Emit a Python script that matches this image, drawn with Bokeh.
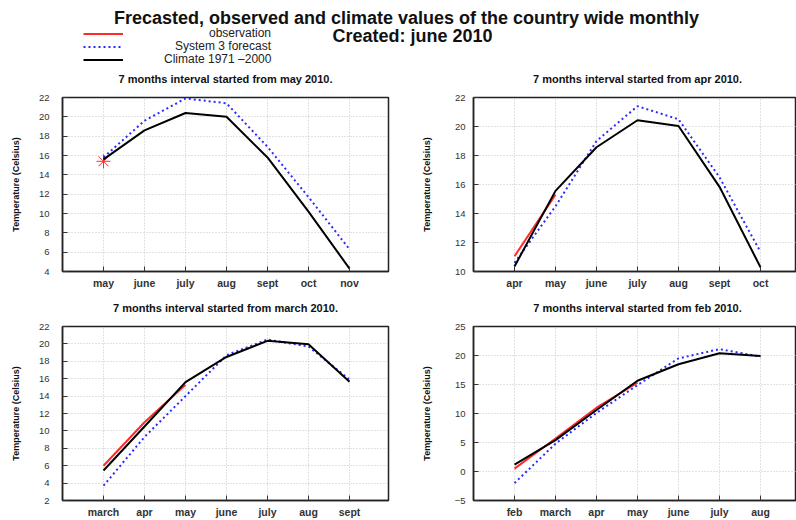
from bokeh.plotting import figure
from bokeh.layouts import column, row
from bokeh.models import FixedTicker, Label, Legend, LegendItem, Range1d
from bokeh.embed import file_html
from bokeh.resources import INLINE

FONT = "Liberation Sans"

# ---------------- data ----------------
month_pos = [1, 2, 3, 4, 5, 6, 7]

months_may = ["may", "june", "july", "aug", "sept", "oct", "nov"]
obs_may = [15.4]
fc_may = [15.8, 19.6, 21.9, 21.4, 16.9, 11.7, 6.3]
clim_may = [15.6, 18.6, 20.4, 20.0, 15.8, 10.2, 4.3]
yticks_may = [4, 6, 8, 10, 12, 14, 16, 18, 20, 22]

months_apr = ["apr", "may", "june", "july", "aug", "sept", "oct"]
obs_apr = [11.05, 15.3]
fc_apr = [10.6, 14.5, 19.0, 21.4, 20.5, 16.5, 11.35]
clim_apr = [10.35, 15.56, 18.57, 20.43, 20.03, 15.84, 10.29]
yticks_apr = [10, 12, 14, 16, 18, 20, 22]

months_mar = ["march", "apr", "may", "june", "july", "aug", "sept"]
obs_mar = [6.0, 11.0, 15.3]
fc_mar = [3.7, 9.3, 14.0, 18.7, 20.5, 19.7, 15.9]
clim_mar = [5.45, 10.5, 15.6, 18.5, 20.35, 19.95, 15.65]
yticks_mar = [2, 4, 6, 8, 10, 12, 14, 16, 18, 20, 22]

months_feb = ["feb", "march", "apr", "may", "june", "july", "aug"]
obs_feb = [0.5, 5.7, 11.0, 15.3]
fc_feb = [-2.0, 4.8, 10.1, 14.9, 19.5, 21.1, 19.8]
clim_feb = [1.2, 5.4, 10.6, 15.65, 18.5, 20.4, 19.9]
yticks_feb = [-5, 0, 5, 10, 15, 20, 25]

legend_labels = ["observation", "System 3 forecast", "Climate 1971 \u20132000"]
main_title_1 = "Frecasted, observed and climate values of the country wide monthly"
main_title_2 = "Created: june 2010"
panel_titles = ["7 months interval started from may 2010.",
                "7 months interval started from apr 2010.",
                "7 months interval started from march 2010.",
                "7 months interval started from feb 2010."]

RED = "#ff2a2a"
BLUE = "#2a2aff"
BLACK = "#000000"


def blank(height):
    f = figure(width=796, height=height, x_range=Range1d(0, 796), y_range=Range1d(0, height),
               x_axis_type=None, y_axis_type=None, min_border=0,
               output_backend="svg", toolbar_location=None)
    f.grid.visible = False
    f.outline_line_color = None
    return f


def title_label(f, text, x, y, size, bold=True):
    f.add_layout(Label(x=x, y=y, x_units="screen", y_units="screen", text=text,
                       text_align="center", text_baseline="middle", text_font=FONT,
                       text_font_size=size, text_font_style="bold" if bold else "normal",
                       text_color="#111111"))


def make_panel(months, obs, fc, clim, yticks, left, top_row):
    if left:
        w, bl, br = 400, 62, 12
        xend = 326 / 41.0
        lab_stand, axlab_stand = 13, 15
    else:
        w, bl, br = 396, 73, 0
        xend = 323 / 41.0
        lab_stand, axlab_stand = 8, 20
    if top_row:
        hgt, bt, bb = 207, 9, 24
    else:
        hgt, bt, bb = 202, 8, 20
    p = figure(width=w, height=hgt,
               x_range=Range1d(0, xend),
               y_range=Range1d(yticks[0], yticks[-1]),
               output_backend="svg", toolbar_location=None,
               min_border_left=bl, min_border_right=br,
               min_border_top=bt, min_border_bottom=bb)

    p.outline_line_color = "#222222"
    p.outline_line_width = 1.5

    p.xaxis.ticker = FixedTicker(ticks=month_pos)
    p.xaxis.major_label_overrides = {pos: m for pos, m in zip(month_pos, months)}
    p.yaxis.ticker = FixedTicker(ticks=yticks)
    p.yaxis.major_label_overrides = {t: (str(t).replace("-", "\u2212")) for t in yticks}

    for ax in (p.xaxis[0], p.yaxis[0]):
        ax.axis_line_color = "#222222"
        ax.axis_line_width = 1.5
        ax.major_tick_in = 5
        ax.major_tick_out = 0
        ax.minor_tick_line_color = None
        ax.major_tick_line_color = "#333333"
        ax.major_label_text_font = FONT
        ax.major_label_text_color = "#333333"

    p.xaxis.major_label_text_font_size = "10.5px"
    p.xaxis.major_label_text_font_style = "bold"
    p.xaxis.major_label_standoff = 5

    p.yaxis.major_label_text_font_size = "9.5px"
    p.yaxis.major_label_standoff = lab_stand
    p.yaxis.axis_label = "Temperature (Celsius)"
    p.yaxis.axis_label_text_font = FONT
    p.yaxis.axis_label_text_font_size = "9px"
    p.yaxis.axis_label_text_font_style = "bold"
    p.yaxis.axis_label_text_color = "#111111"
    p.yaxis.axis_label_standoff = axlab_stand

    p.grid.grid_line_color = "#c4c4c4"
    p.grid.grid_line_dash = "1 2"
    p.grid.grid_line_width = 1

    n = len(obs)
    p.line(month_pos[:n], obs, color=RED, line_width=2)
    if n == 1:
        p.scatter(month_pos[:n], obs, marker="asterisk", size=14,
                  line_color=RED, line_width=1)
    p.line(month_pos, fc, color=BLUE, line_width=2, line_dash="2 3")
    p.line(month_pos, clim, color=BLACK, line_width=2)
    return p


# ---------------- header (main title, legend, first-row titles) ----------------
h = blank(88)
title_label(h, main_title_1, 406, 71, "18px")
title_label(h, main_title_2, 412, 53, "18px")
title_label(h, panel_titles[0], 225, 10, "11px")
title_label(h, panel_titles[1], 637, 10, "11px")

# legend proxies (data lie outside the visible header range)
r_obs = h.line([-50, -40], [-50, -40], color=RED, line_width=2)
r_fc = h.line([-50, -40], [-50, -40], color=BLUE, line_width=2, line_dash="2 3")
r_cl = h.line([-50, -40], [-50, -40], color=BLACK, line_width=2)
for label, rend, standoff, ypos in ((legend_labels[0], r_obs, 86, 48),
                                    (legend_labels[1], r_fc, 52, 35),
                                    (legend_labels[2], r_cl, 41, 22)):
    leg = Legend(items=[LegendItem(label=label, renderers=[rend])],
                 location=(83, ypos), glyph_width=40, glyph_height=13, label_height=13,
                 spacing=0, padding=0, margin=0, label_standoff=standoff,
                 border_line_color=None, background_fill_alpha=0,
                 label_text_font=FONT, label_text_font_size="12px",
                 label_text_color="#222222")
    h.add_layout(leg)

# ---------------- strip with second-row titles ----------------
mid = blank(23)
title_label(mid, panel_titles[2], 225, 11, "11px")
title_label(mid, panel_titles[3], 637, 11, "11px")

p1 = make_panel(months_may, obs_may, fc_may, clim_may, yticks_may, True, True)
p2 = make_panel(months_apr, obs_apr, fc_apr, clim_apr, yticks_apr, False, True)
p3 = make_panel(months_mar, obs_mar, fc_mar, clim_mar, yticks_mar, True, False)
p4 = make_panel(months_feb, obs_feb, fc_feb, clim_feb, yticks_feb, False, False)

layout = column(h, row(p1, p2), mid, row(p3, p4))
open("out.html", "w").write(file_html(layout, INLINE))
